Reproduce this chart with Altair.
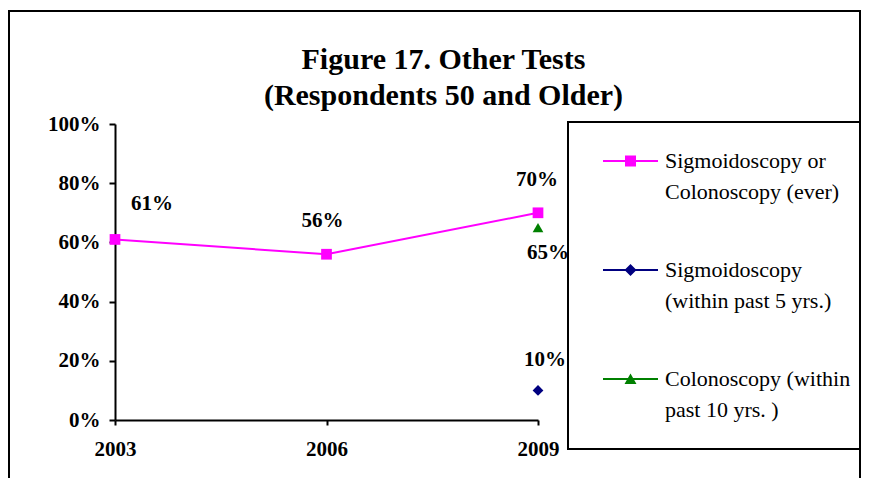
import altair as alt
import pandas as pd

# ---- data ----
years = [2003, 2006, 2009]
ever_values = [61, 56, 70]          # Sigmoidoscopy or Colonoscopy (ever)
sig_years = [2009]
sig_values = [10]                   # Sigmoidoscopy (within past 5 yrs.)
col_years = [2009]
col_values = [65]                   # Colonoscopy (within past 10 yrs.)

series_names = [
    "Sigmoidoscopy or|Colonoscopy (ever)",
    "Sigmoidoscopy|(within past 5 yrs.)",
    "Colonoscopy (within|past 10 yrs. )",
]
series_colors = ["#FF00FF", "#000080", "#008000"]
point_shapes = ["square", "diamond", "triangle-up"]
x_ticks = [2003, 2006, 2009]
y_ticks = [0, 20, 40, 60, 80, 100]
title_lines = ["Figure 17. Other Tests", "(Respondents 50 and Older)"]

# legend symbols: a short line with the marker on it (plus an invisible point for row spacing)
legend_paths = [
    "M-1,0.9L4.5,0.9L4.5,1.1L-1,1.1Z M1.2,0.45L2.3,0.45L2.3,1.55L1.2,1.55Z M1.75,6.2L1.751,6.2",
    "M-1,0.9L4.5,0.9L4.5,1.1L-1,1.1Z M1.75,0.4L2.35,1.0L1.75,1.6L1.15,1.0Z M1.75,6.2L1.751,6.2",
    "M-1,0.9L4.5,0.9L4.5,1.1L-1,1.1Z M1.75,0.45L2.35,1.5L1.15,1.5Z M1.75,6.2L1.751,6.2",
]

rows = []
for yr, v in zip(years, ever_values):
    rows.append({"year": yr, "value": v, "series": series_names[0]})
for yr, v in zip(sig_years, sig_values):
    rows.append({"year": yr, "value": v, "series": series_names[1]})
for yr, v in zip(col_years, col_values):
    rows.append({"year": yr, "value": v, "series": series_names[2]})
df = pd.DataFrame(rows)
df["id"] = range(len(df))
df["label"] = df["value"].astype(int).astype(str) + "%"

# label offsets (style), one per row of df
label_offsets = [(37, -35), (-4, -33), (-1, -33), (7, -30), (10, 25)]

FONT = "Liberation Serif"

x_enc = alt.X(
    "year:Q",
    scale=alt.Scale(domain=[2003, 2009], nice=False, zero=False),
    axis=alt.Axis(values=x_ticks, format="d", title=None, tickSize=5,
                  labelPadding=13, labelFlush=False, grid=False),
)
y_enc = alt.Y(
    "value:Q",
    scale=alt.Scale(domain=[0, 100], nice=False),
    axis=alt.Axis(values=y_ticks, labelExpr="datum.value + '%'", title=None,
                  tickSize=6, labelPadding=9, labelFlush=False, grid=False),
)

base = alt.Chart(df)

line = base.transform_filter(alt.datum.series == series_names[0]).mark_line(
    strokeWidth=2, color=series_colors[0]
).encode(x=x_enc, y=y_enc)

point_layers = []
for name, shp, col in zip(series_names, point_shapes, series_colors):
    point_layers.append(
        base.transform_filter(alt.datum.series == name)
        .mark_point(filled=True, size=115, opacity=1, shape=shp, color=col)
        .encode(x=x_enc, y=y_enc)
    )

label_layers = []
for i, (ddx, ddy) in enumerate(label_offsets):
    label_layers.append(
        base.transform_filter(alt.datum.id == i).mark_text(
            font=FONT, fontSize=21, fontWeight="bold", color="black", dx=ddx, dy=ddy
        ).encode(x=x_enc, y=y_enc, text="label:N")
    )

legend_props = dict(
    orient="none", legendX=453, legendY=-2, title=None,
    padding=18, strokeColor="black",
    symbolSize=400, symbolStrokeWidth=0, symbolOffset=16, symbolOpacity=1,
    labelOffset=41, labelFont=FONT, labelFontSize=22, labelColor="black",
    labelBaseline="top", labelLimit=400, labelExpr="split(datum.label, '|')",
    rowPadding=36, direction="vertical",
)

legend_layer = base.transform_filter("false").mark_point(filled=True).encode(
    x=x_enc, y=y_enc,
    shape=alt.Shape("series:N", scale=alt.Scale(domain=series_names, range=legend_paths),
                    legend=alt.Legend(**legend_props)),
    fill=alt.Fill("series:N", scale=alt.Scale(domain=series_names, range=series_colors),
                  legend=alt.Legend(**legend_props)),
)

frame = alt.Chart(pd.DataFrame({"k": [0]})).mark_rect(
    fill="transparent", stroke="black", strokeWidth=2, clip=False
).encode(x=alt.value(-106), x2=alt.value(745), y=alt.value(-113), y2=alt.value(400))

chart = alt.layer(frame, line, *point_layers, *label_layers, legend_layer).properties(
    width=423, height=296,
    autosize=alt.AutoSizeParams(type="none"),
    padding={"left": 107, "top": 116, "right": 323, "bottom": 58},
    title=alt.TitleParams(
        title_lines, font=FONT, fontSize=30, fontWeight="bold", color="black",
        anchor="middle", dx=117, dy=121, offset=20, lineHeight=36,
    ),
).configure(
    style={"guide-label": {"lineHeight": 31}}
).configure_view(stroke=None).configure_axis(
    domainColor="black", domainWidth=2, tickColor="black", tickWidth=2,
    labelFont=FONT, labelFontSize=21, labelFontWeight="bold", labelColor="black",
).configure_legend(strokeWidth=2)

chart.save("out.html", embed_options={"renderer": "svg", "actions": False})
